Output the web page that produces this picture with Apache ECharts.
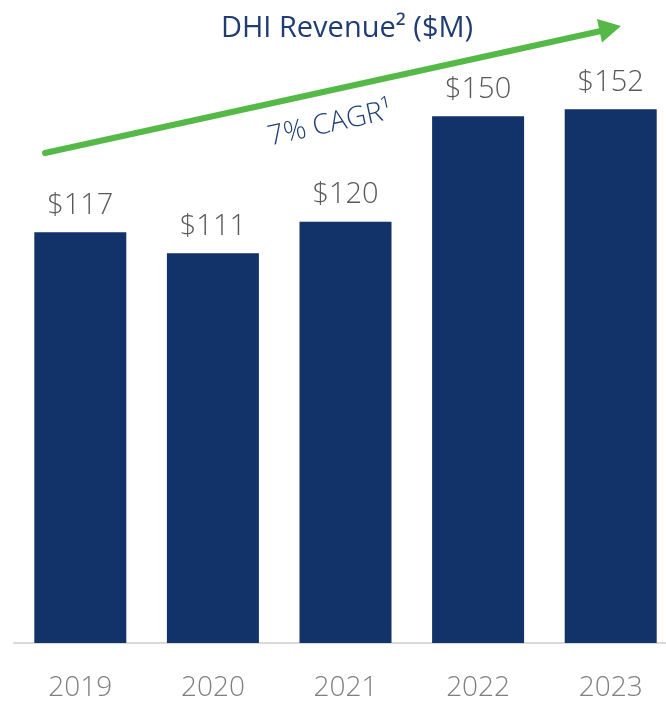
<!DOCTYPE html>
<html>
<head>
<meta charset="utf-8">
<script src="https://cdn.jsdelivr.net/npm/echarts@6/dist/echarts.min.js"></script>
<style>
  html, body { margin: 0; padding: 0; background: #fff; }
  #main { width: 666px; height: 705px; }
</style>
</head>
<body>
<div id="main"></div>
<script>
  // DHI revenue by year ($M)
  var years = ['2019', '2020', '2021', '2022', '2023'];
  var revenue = [117, 111, 120, 150, 152];

  var navy = '#12326a';
  var green = '#55b947';
  var font = '"Open Sans", sans-serif';

  var chart = echarts.init(document.getElementById('main'));

  chart.setOption({
    animation: false,
    // grid runs a bit past the right edge, like the source slide
    grid: { left: 14, right: -11, top: 11, bottom: 62, outerBoundsMode: 'none', containLabel: false },
    xAxis: {
      type: 'category',
      data: years,
      axisTick: { show: false },
      axisLine: { lineStyle: { color: '#d9d9d9', width: 2 } },
      axisLabel: {
        margin: 31,
        fontSize: 28,
        fontWeight: 300,
        fontFamily: font,
        color: '#7f7f7f'
      }
    },
    yAxis: {
      type: 'value',
      min: 0,
      max: 180,
      show: false
    },
    series: [{
      type: 'bar',
      data: revenue,
      barWidth: 92,
      itemStyle: { color: navy },
      label: {
        show: true,
        position: 'top',
        distance: 12,
        formatter: '${c}',
        fontSize: 29,
        fontWeight: 300,
        fontFamily: font,
        color: '#595959'
      }
    }],
    graphic: [
      {
        // title
        type: 'text',
        x: 347,
        y: 29,
        style: {
          text: 'DHI Revenue\u00b2 ($M)',
          fontSize: 29,
          fontFamily: font,
          fill: '#1f3d73',
          align: 'center',
          verticalAlign: 'middle'
        }
      },
      {
        // CAGR arrow shaft
        type: 'line',
        shape: { x1: 45, y1: 153, x2: 601, y2: 31 },
        style: { stroke: green, lineWidth: 6, lineCap: 'round' }
      },
      {
        // arrow head
        type: 'polygon',
        shape: { points: [[621, 26], [602, 42.5], [597, 19]] },
        style: { fill: green }
      },
      {
        type: 'text',
        x: 330,
        y: 124,
        rotation: 0.217,
        style: {
          text: '7% CAGR\u00b9',
          fontSize: 28,
          fontWeight: 300,
          fontFamily: font,
          fill: '#1f3d73',
          align: 'center',
          verticalAlign: 'middle'
        }
      }
    ]
  });
</script>
</body>
</html>
